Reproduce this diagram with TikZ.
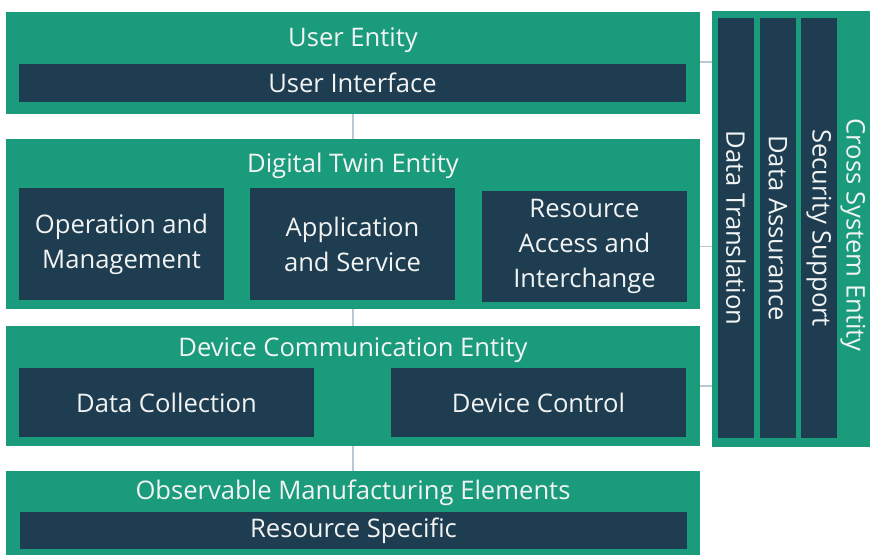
\documentclass[tikz,border=0pt]{standalone}
\usepackage{fontspec}
\setmainfont{Open Sans}
\usetikzlibrary{calc}
\definecolor{cEnt}{HTML}{1A9B7B}
\definecolor{cMod}{HTML}{1E3D50}
\definecolor{cLink}{HTML}{B9C9D3}
\definecolor{cTxt}{HTML}{F2F4F4}

\begin{document}
\begin{tikzpicture}[
    x=0.025cm, y=-0.025cm, font=\fontsize{18.2}{25}\selectfont,
    ent/.style={fill=cEnt, draw=none, inner sep=0pt, minimum width=17.35cm},
    mod/.style={fill=cMod, draw=none, inner sep=0pt, text=cTxt, align=center},
    col/.style={fill=cMod, draw=none, inner sep=0pt, minimum width=0.9cm,
                minimum height=10.5cm},
    ttl/.style={text=cTxt, inner sep=0pt},
    vtxt/.style={text=cTxt, inner sep=0pt, rotate=-90},
    link/.style={draw=cLink, line width=1.1pt},
]
\useasboundingbox (0,0) rectangle (870,554);

% ===================== User Entity =====================
\node[ent, minimum height=2.55cm] (usr) at (353,63) {};
\node[ttl] (usrT) at (353,40) {User Entity};
\node[mod, minimum width=16.675cm, minimum height=0.95cm] (usrif) at (352.5,83)
      {User Interface};

% ===================== Digital Twin Entity =====================
\node[ent, minimum height=4.25cm] (dt) at (353,224) {};
\node[ttl] (dtT) at (353,166) {Digital Twin Entity};
\node[mod, minimum width=5.125cm, minimum height=2.8cm] (opm) at (121.5,244)
      {Operation and\\Management};
\node[mod, minimum width=5.125cm, minimum height=2.8cm] (aps) at (352.5,244)
      {Application\\and Service};
\node[mod, minimum width=5.125cm, minimum height=2.775cm] (rai) at (584.5,246.5)
      {Resource\\Access and\\Interchange};

% ===================== Device Communication Entity =====================
\node[ent, minimum height=3.0cm] (dce) at (353,386) {};
\node[ttl] (dceT) at (353,350) {Device Communication Entity};
\node[mod, minimum width=7.375cm, minimum height=1.725cm] (dcol) at (166.5,402.5)
      {Data Collection};
\node[mod, minimum width=7.375cm, minimum height=1.725cm] (dctl) at (538.5,402.5)
      {Device Control};

% ===================== Observable Manufacturing Elements =====================
\node[ent, minimum height=2.1cm] (ome) at (353,513) {};
\node[ttl] (omeT) at (353,493) {Observable Manufacturing Elements};
\node[mod, minimum width=16.675cm, minimum height=0.925cm] (rsp) at (353.5,530.5)
      {Resource Specific};

% ===================== Cross System Entity =====================
\node[fill=cEnt, inner sep=0pt, minimum width=3.95cm, minimum height=10.9cm]
      (cse) at (791,229) {};
\node[col] (dtr) at (736,228) {};
\node[col] (das) at (778,228) {};
\node[col] (ssp) at (819,228) {};
\node[vtxt] at (dtr) {Data Translation};
\node[vtxt] at (das) {Data Assurance};
\node[vtxt] at (ssp) {Security Support};
\node[vtxt] (cseT) at (853,235) {Cross System Entity};

% ===================== Links =====================
\draw[link] (usr.south) -- (dt.north);
\draw[link] (dt.south) -- (dce.north);
\draw[link] (dce.south) -- (ome.north);
\draw[link] (usr.east |- 0,62) -- (cse.west |- 0,62);
\draw[link] (dt.east |- rai.east) -- (cse.west |- rai.east);
\draw[link] (dce.east) -- (cse.west |- dce.east);

\end{tikzpicture}
\end{document}
